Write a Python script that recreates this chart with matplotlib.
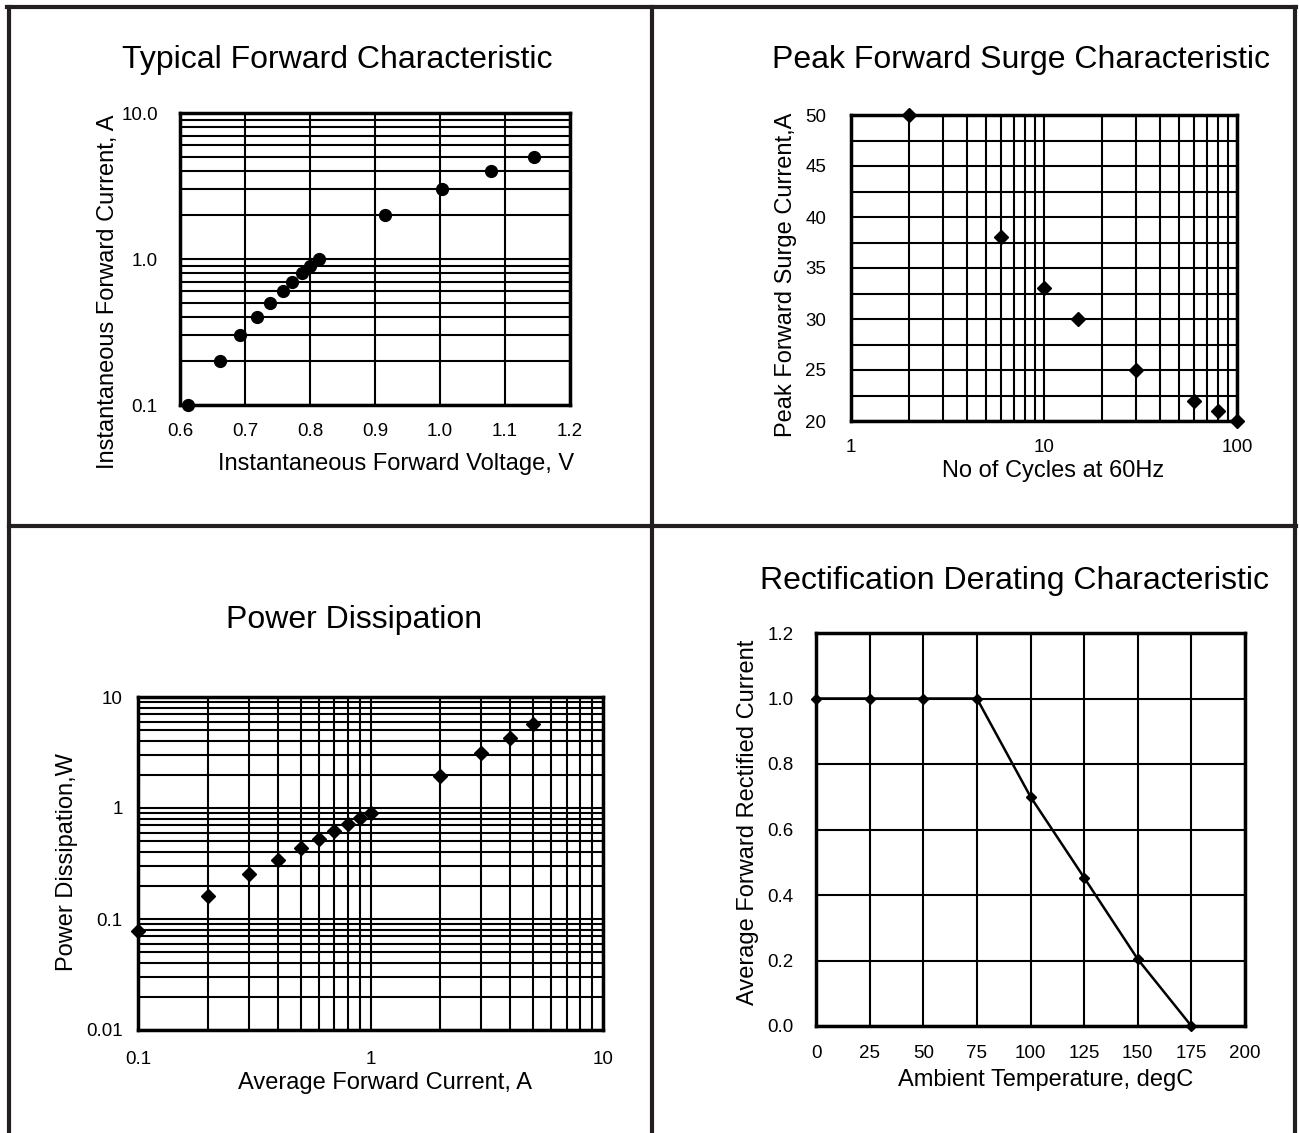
import matplotlib
matplotlib.use("Agg")
import matplotlib.pyplot as plt
from matplotlib.lines import Line2D
from matplotlib.ticker import FixedLocator, NullFormatter, MultipleLocator, LogLocator, FuncFormatter

plt.rcParams['font.family'] = ['Liberation Sans', 'DejaVu Sans']

W, H = 1299, 1133

# --- data ---
# typical forward characteristic
vf = [0.612, 0.662, 0.692, 0.719, 0.739, 0.758, 0.773, 0.788, 0.80, 0.814, 0.915, 1.003, 1.079, 1.145]
i_f = [0.1, 0.2, 0.3, 0.4, 0.5, 0.6, 0.7, 0.8, 0.9, 1.0, 2.0, 3.0, 4.0, 5.0]
vf_ticks = [0.6, 0.7, 0.8, 0.9, 1.0, 1.1, 1.2]

# peak forward surge
cycles = [2, 6, 10, 15, 30, 60, 80, 100]
surge = [50, 38, 33, 30, 25, 22, 21, 20]

# power dissipation
i_avg = [0.1, 0.2, 0.3, 0.4, 0.5, 0.6, 0.7, 0.8, 0.9, 1.0, 2.0, 3.0, 4.0, 5.0]
p_diss = [0.078, 0.162, 0.252, 0.338, 0.434, 0.526, 0.617, 0.713, 0.813, 0.90, 1.94, 3.11, 4.3, 5.68]

# derating
temp = [0, 25, 50, 75, 100, 125, 150, 175]
i_rect = [1.0, 1.0, 1.0, 1.0, 0.70, 0.453, 0.204, 0.0]
temp_ticks = [0, 25, 50, 75, 100, 125, 150, 175, 200]
irect_ticks = [0.0, 0.2, 0.4, 0.6, 0.8, 1.0, 1.2]


def rect(l, t, r, b):
    # pixel box -> figure fraction [left, bottom, width, height]
    return [l / W, 1 - b / H, (r - l) / W, (b - t) / H]


def fx(x):
    return x / W


def fy(y):
    return 1 - y / H


def style(ax, pad_x, pad_y):
    for s in ax.spines.values():
        s.set_linewidth(2.5)
        s.set_zorder(4)
    ax.tick_params(which='both', length=0, labelsize=13.5)
    ax.tick_params(axis='x', pad=pad_x)
    ax.tick_params(axis='y', pad=pad_y)
    ax.grid(True, which='both', color='black', linewidth=1.5)
    ax.set_axisbelow(True)


def labels(ax, title, xl, yl, tpos, xpos, ypos):
    fig.text(fx(tpos[0]), fy(tpos[1]), title, fontsize=23, ha='center', va='center')
    fig.text(fx(xpos[0]), fy(xpos[1]), xl, fontsize=17, ha='center', va='center')
    fig.text(fx(ypos[0]), fy(ypos[1]), yl, fontsize=17, ha='center', va='center', rotation=90)


fig = plt.figure(figsize=(W / 100, H / 100), dpi=100)

# outer frame lines
frame_kw = dict(color='#231f20', linewidth=3, transform=fig.transFigure)
fig.add_artist(Line2D([fx(7), fx(1296)], [fy(7), fy(7)], **frame_kw))
fig.add_artist(Line2D([fx(9), fx(9)], [fy(7), fy(1133)], **frame_kw))
fig.add_artist(Line2D([fx(652), fx(652)], [fy(7), fy(1133)], **frame_kw))
fig.add_artist(Line2D([fx(1295), fx(1295)], [fy(7), fy(1133)], **frame_kw))
fig.add_artist(Line2D([fx(9), fx(1296)], [fy(526), fy(526)], **frame_kw))

one_dec = FuncFormatter(lambda v, p: f'{v:.1f}')

# ---- Typical Forward Characteristic ----
ax1 = fig.add_axes(rect(180, 113, 570, 405))
ax1.set_yscale('log')
ax1.set_xlim(0.6, 1.2)
ax1.set_ylim(0.1, 10)
ax1.xaxis.set_major_locator(FixedLocator(vf_ticks))
ax1.xaxis.set_major_formatter(one_dec)
ax1.yaxis.set_major_locator(FixedLocator([0.1, 1, 10]))
ax1.yaxis.set_major_formatter(FuncFormatter(lambda v, p: '0.1' if v < 0.5 else f'{v:.1f}'))
ax1.yaxis.set_minor_locator(LogLocator(base=10, subs=range(2, 10)))
ax1.yaxis.set_minor_formatter(NullFormatter())
style(ax1, 13, 16)
ax1.plot(vf, i_f, 'o', color='black', ms=8.5, clip_on=False, zorder=5)
labels(ax1, 'Typical Forward Characteristic', 'Instantaneous Forward Voltage, V',
       'Instantaneous Forward Current, A', (337, 60), (396, 464), (108, 292))

# ---- Peak Forward Surge Characteristic ----
ax2 = fig.add_axes(rect(851, 115, 1237, 421))
ax2.set_xscale('log')
ax2.set_xlim(1, 100)
ax2.set_ylim(20, 50)
ax2.xaxis.set_major_locator(FixedLocator([1, 10, 100]))
ax2.xaxis.set_major_formatter(FuncFormatter(lambda v, p: f'{v:g}'))
ax2.xaxis.set_minor_locator(LogLocator(base=10, subs=range(2, 10)))
ax2.xaxis.set_minor_formatter(NullFormatter())
ax2.yaxis.set_major_locator(MultipleLocator(5))
ax2.yaxis.set_minor_locator(MultipleLocator(2.5))
style(ax2, 13, 18)
ax2.plot(cycles, surge, 'D', color='black', ms=7.5, clip_on=False, zorder=5)
labels(ax2, 'Peak Forward Surge Characteristic', 'No of Cycles at 60Hz',
       'Peak Forward Surge Current,A', (1021, 60), (1053, 471), (786, 275))

# ---- Power Dissipation ----
ax3 = fig.add_axes(rect(138, 697, 603, 1030))
ax3.set_xscale('log')
ax3.set_yscale('log')
ax3.set_xlim(0.1, 10)
ax3.set_ylim(0.01, 10)
ax3.xaxis.set_major_locator(FixedLocator([0.1, 1, 10]))
ax3.yaxis.set_major_locator(FixedLocator([0.01, 0.1, 1, 10]))
for a in (ax3.xaxis, ax3.yaxis):
    a.set_major_formatter(FuncFormatter(lambda v, p: f'{v:g}'))
    a.set_minor_locator(LogLocator(base=10, subs=range(2, 10)))
    a.set_minor_formatter(NullFormatter())
style(ax3, 15, 11)
ax3.plot(i_avg, p_diss, 'D', color='black', ms=7.5, clip_on=False, zorder=5)
labels(ax3, 'Power Dissipation', 'Average Forward Current, A',
       'Power Dissipation,W', (354, 620), (385, 1083), (67, 862))

# ---- Rectification Derating Characteristic ----
ax4 = fig.add_axes(rect(816, 633, 1245, 1026))
ax4.set_xlim(0, 200)
ax4.set_ylim(0, 1.2)
ax4.xaxis.set_major_locator(FixedLocator(temp_ticks))
ax4.yaxis.set_major_locator(FixedLocator(irect_ticks))
ax4.yaxis.set_major_formatter(one_dec)
style(ax4, 14, 16)
ax4.plot(temp, i_rect, '-D', color='black', lw=1.8, ms=5.5, clip_on=False, zorder=5)
labels(ax4, 'Rectification Derating Characteristic', 'Ambient Temperature, degC',
       'Average Forward Rectified Current', (1014, 581), (1046, 1080), (748, 822))

fig.savefig('out.png', dpi=100)
